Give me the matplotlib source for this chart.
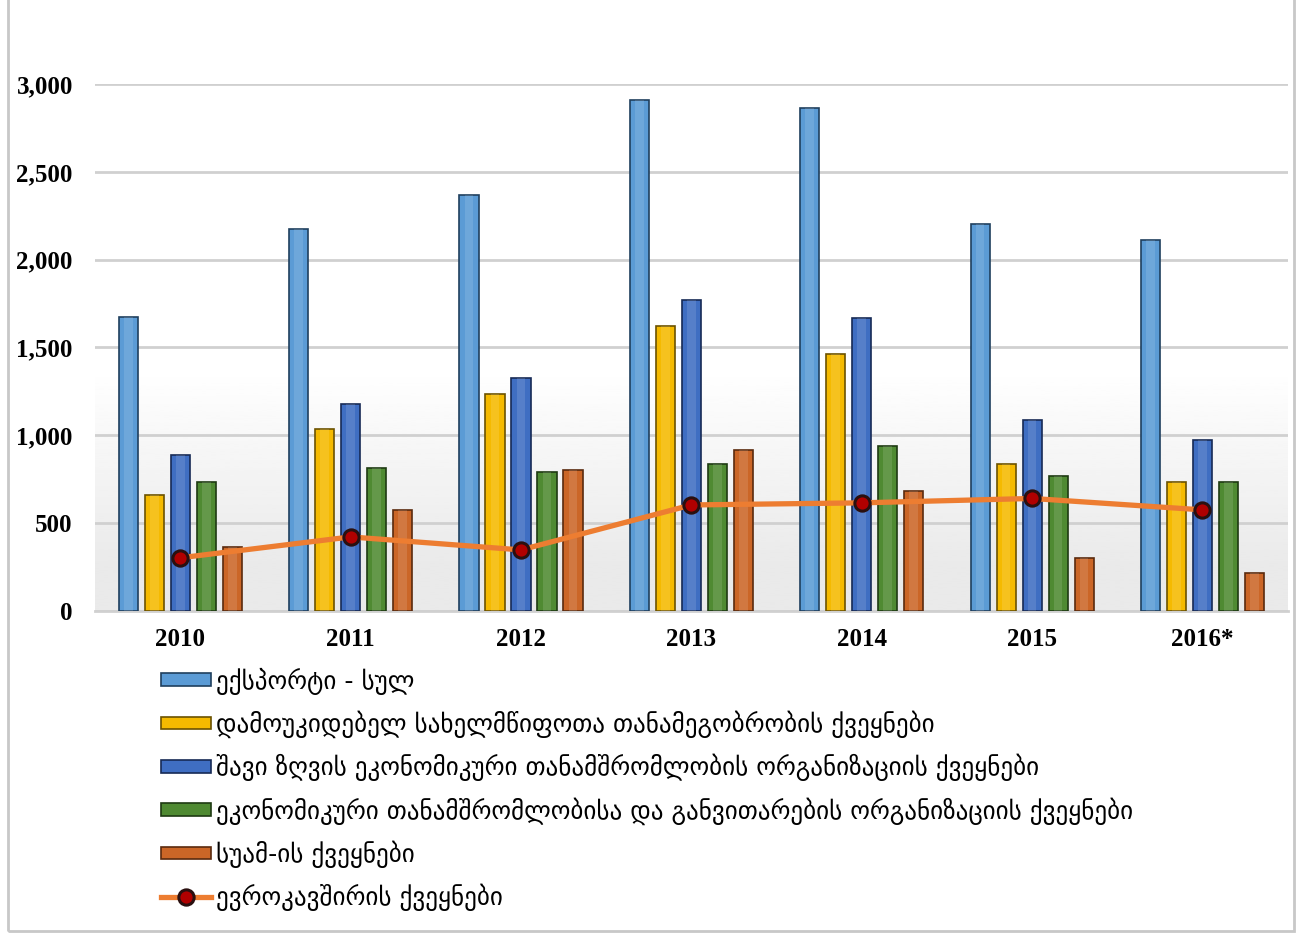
import matplotlib
matplotlib.use("Agg")
import matplotlib.pyplot as plt
import numpy as np
from matplotlib.patches import Patch, Rectangle
from matplotlib.lines import Line2D
from matplotlib.ticker import FuncFormatter

# data
years = ["2010", "2011", "2012", "2013", "2014", "2015", "2016*"]
export_total = [1675, 2174, 2368, 2908, 2863, 2203, 2112]
cis = [660, 1036, 1235, 1622, 1463, 837, 734]
bsec = [888, 1178, 1326, 1770, 1668, 1087, 973]
oecd = [734, 814, 791, 837, 939, 768, 734]
guam = [364, 575, 802, 916, 683, 302, 216]
eu = [302, 421, 347, 603, 615, 640, 575]

labels = [
    "ექსპორტი - სულ",
    "დამოუკიდებელ სახელმწიფოთა თანამეგობრობის ქვეყნები",
    "შავი ზღვის ეკონომიკური თანამშრომლობის ორგანიზაციის ქვეყნები",
    "ეკონომიკური თანამშრომლობისა და განვითარების ორგანიზაციის ქვეყნები",
    "სუამ-ის ქვეყნები",
    "ევროკავშირის ქვეყნები",
]

bar_series = [export_total, cis, bsec, oecd, guam]
bar_colors = ["#5B9BD5", "#F5BA00", "#3F6EC2", "#4F8A32", "#CB6627"]
edge_colors = ["#1F3F5E", "#6B5200", "#172A55", "#1E3A12", "#5A2A0E"]
line_color = "#ED7D31"

fig = plt.figure(figsize=(13.02, 9.34), dpi=100)
ax = fig.add_axes([0.073, 0.346, 0.916, 0.564])

x = np.arange(len(years))
step = 0.1526
width = 0.112

# background: white at the top, light grey towards the bottom
t = np.linspace(0, 1, 256).reshape(-1, 1)  # 0 = bottom, 1 = top
shade = 0.915 + 0.085 * np.clip((t - 0.08) / 0.38, 0, 1)
ax.imshow(shade, cmap="gray", vmin=0, vmax=1, origin="lower",
          extent=[-0.5, len(years) - 0.5, 0, 3000], aspect="auto", zorder=0)

for i, (vals, fc, ec) in enumerate(zip(bar_series, bar_colors, edge_colors)):
    pos = x + (i - 2) * step
    ax.bar(pos, vals, width=width, color=fc, edgecolor=ec, linewidth=1.2, zorder=3)
    # lighter inner stripe for a bevel look
    ax.bar(pos, vals, width=width * 0.45, color="white", alpha=0.12, linewidth=0, zorder=4)

ax.plot(x, eu, color=line_color, linewidth=3.8, zorder=5,
        marker="o", markersize=11, markerfacecolor="#B00000",
        markeredgecolor="#2A1010", markeredgewidth=2.2)

ax.set_xlim(-0.5, len(years) - 0.5)
ax.set_ylim(0, 3000)
ax.set_yticks(range(0, 3001, 500))
ax.yaxis.set_major_formatter(FuncFormatter(lambda v, p: f"{int(v):,}"))
ax.set_xticks(x)
ax.set_xticklabels(years)
ax.grid(axis="y", color="#D0D0D0", linewidth=2, zorder=1)
ax.set_axisbelow(True)
for s in ["top", "right", "left"]:
    ax.spines[s].set_visible(False)
ax.spines["bottom"].set_color("#D0D0D0")
ax.spines["bottom"].set_linewidth(2)
ax.tick_params(axis="both", length=0)
ax.tick_params(axis="y", pad=16)
ax.tick_params(axis="x", pad=12)
for lab in ax.get_xticklabels() + ax.get_yticklabels():
    lab.set_fontfamily("Liberation Serif")
    lab.set_fontweight("bold")
    lab.set_fontsize(18)

# legend
handles = [Patch(facecolor=fc, edgecolor=ec, linewidth=1.2)
           for fc, ec in zip(bar_colors, edge_colors)]
handles.append(Line2D([], [], color=line_color, linewidth=3.8, marker="o", markersize=11,
                      markerfacecolor="#B00000", markeredgecolor="#2A1010",
                      markeredgewidth=2.2))
fig.legend(handles, labels, loc="upper left", bbox_to_anchor=(0.116, 0.296),
           frameon=False, prop={"family": "DejaVu Sans", "size": 18},
           handlelength=2.0, handleheight=0.4, handletextpad=0.2,
           labelspacing=0.63, borderaxespad=0)

# outer frame
fig.patches.append(Rectangle((0.006, 0.003), 0.988, 1.2, transform=fig.transFigure,
                             fill=False, edgecolor="#C8C8C8", linewidth=2))

fig.savefig("out.png", dpi=100)
